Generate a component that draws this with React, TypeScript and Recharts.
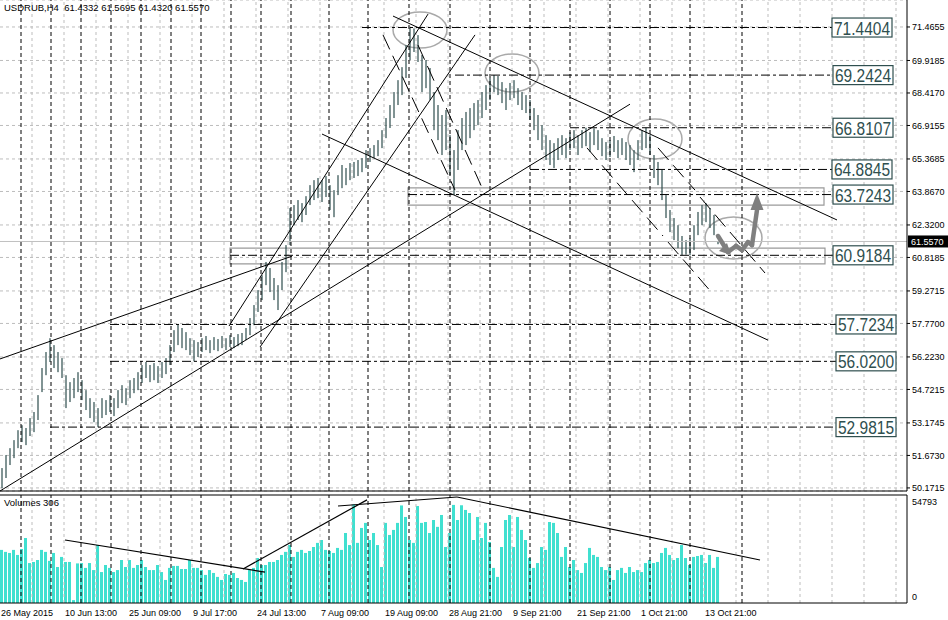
import React from "react";
import {
  ComposedChart,
  BarChart,
  Bar,
  XAxis,
  YAxis,
  CartesianGrid,
  ReferenceLine,
  ReferenceArea,
  ReferenceDot,
} from "recharts";

// USDRUB H4 bars (one entry per bar)
const highs = [
  51.09, 51.69, 52.01, 52.38, 52.84, 53.07, 52.94, 53.4, 53.68, 54.46,
  55.71, 56.45, 57.09, 56.77, 56.45, 56.17, 55.38, 55.06, 55.25, 55.52,
  55.15, 54.69, 54.32, 54.14, 53.86, 54.32, 54.23, 54.46, 54.32, 54.69,
  54.92, 54.78, 55.15, 55.25, 55.52, 55.85, 55.99, 55.85, 55.94, 55.8,
  55.99, 56.17, 56.77, 57.46, 57.72, 57.56, 57.37, 57.09, 57.0, 56.91,
  57.09, 57.19, 57.0, 57.14, 57.05, 57.19, 57.09, 57.23, 57.14, 57.28,
  57.33, 57.56, 58.02, 58.62, 59.31, 60.0, 60.61, 60.33, 59.87, 59.54,
  60.61, 61.39, 63.1, 63.24, 63.47, 63.33, 63.65, 64.16, 64.39, 64.49,
  64.39, 64.58, 64.16, 63.93, 64.62, 65.09, 64.95, 65.18, 65.23, 65.32,
  65.41, 65.78, 65.87, 66.01, 66.24, 66.7, 67.26, 67.86, 68.46, 69.01,
  69.61, 70.63, 71.44, 71.4, 71.09, 70.17, 69.94, 69.57, 68.46, 67.86,
  67.4, 67.63, 66.47, 65.78, 66.7, 67.26, 67.54, 67.72, 67.95, 68.09,
  68.46, 68.78, 69.11, 69.24, 69.2, 68.92, 68.64, 68.88, 69.01, 68.64,
  68.46, 68.32, 68.09, 67.72, 67.4, 66.93, 66.47, 66.24, 66.1, 66.33,
  66.47, 66.33, 66.61, 66.7, 66.47, 66.7, 66.81, 66.61, 66.78, 66.7,
  66.33, 66.15, 66.24, 66.43, 66.24, 66.33, 66.15, 66.01, 65.78, 66.24,
  66.7, 66.81, 66.47, 65.55, 65.23, 64.86, 63.7, 63.01, 62.64, 62.31,
  61.81, 61.62, 61.71, 62.31, 62.92, 63.24, 63.33, 63.1, 62.78, 61.57,
];
const lows = [
  50.16, 50.63, 51.23, 51.55, 52.01, 52.29, 52.15, 52.57, 52.75, 53.31,
  54.6, 55.38, 55.99, 55.71, 55.52, 55.25, 53.86, 54.14, 54.32, 54.6,
  54.23, 53.77, 53.4, 53.21, 52.98, 53.4, 53.54, 53.68, 53.49, 53.86,
  54.09, 54.0, 54.32, 54.55, 54.69, 55.02, 55.25, 55.06, 55.15, 55.02,
  55.25, 55.43, 55.85, 56.45, 56.77, 56.63, 56.54, 56.31, 56.02, 56.22,
  56.45, 56.54, 56.4, 56.54, 56.49, 56.63, 56.54, 56.68, 56.63, 56.72,
  56.77, 57.0, 57.23, 57.69, 58.3, 58.85, 59.54, 59.22, 58.85, 58.39,
  59.31, 60.14, 61.39, 62.31, 62.55, 62.45, 62.78, 63.24, 63.47, 63.56,
  63.38, 63.61, 63.01, 62.68, 63.7, 64.02, 64.16, 64.39, 64.49, 64.58,
  64.76, 64.95, 65.23, 65.41, 65.5, 65.87, 66.33, 66.8, 67.26, 67.86,
  68.32, 69.11, 69.94, 70.31, 69.85, 68.46, 68.64, 68.09, 66.7, 66.24,
  65.55, 65.78, 64.62, 63.7, 64.86, 65.78, 66.01, 66.33, 66.7, 66.93,
  67.26, 67.63, 68.09, 68.46, 68.32, 67.95, 67.63, 68.09, 68.18, 67.86,
  67.63, 67.49, 67.17, 66.7, 66.24, 65.78, 65.32, 65.09, 64.95, 65.32,
  65.55, 65.41, 65.78, 65.87, 65.55, 65.87, 65.96, 65.69, 66.01, 65.78,
  65.5, 65.32, 65.46, 65.69, 65.41, 65.55, 65.32, 65.09, 64.76, 65.32,
  65.78, 65.87, 65.55, 64.49, 64.16, 63.47, 62.64, 61.99, 61.62, 61.25,
  60.92, 60.95, 60.92, 61.16, 61.85, 62.31, 62.45, 62.18, 61.85, 61.43,
];
const volumes = [
  29500, 28400, 27800, 29500, 26700, 30000, 36100, 22200, 22800, 23900,
  29500, 28400, 23400, 27800, 20000, 25600, 22800, 22800, 1600, 22000,
  22200, 19500, 22200, 18300, 32200, 17200, 21100, 19500, 17200, 18300,
  23900, 20000, 23900, 19500, 21100, 23900, 20000, 18300, 18300, 21100,
  17200, 12800, 19500, 20600, 20600, 18900, 18900, 23900, 19500, 19500,
  18300, 15600, 18300, 16700, 14500, 12800, 16100, 15600, 16700, 13900,
  12800, 11700, 18300, 19500, 25000, 21100, 21100, 22800, 22800, 23900,
  26700, 28400, 32200, 25600, 28400, 29500, 27800, 28900, 31100, 33400,
  35000, 29500, 28900, 27800, 30600, 29500, 38900, 32200, 54793, 33400,
  41700, 44500, 35000, 38900, 32200, 20000, 44500, 37800, 40600, 44500,
  54200, 47800, 35000, 33400, 53900, 44500, 45000, 38900, 46100, 42300,
  48900, 31100, 38900, 54500, 46100, 54300, 51700, 50000, 35000, 47800,
  36100, 44500, 33900, 19500, 14500, 31100, 46100, 48900, 31100, 47800,
  40600, 35000, 25000, 19500, 22200, 31100, 29500, 45000, 44500, 38900,
  25600, 31100, 20000, 23900, 18300, 16700, 22200, 30600, 26700, 25600,
  20000, 18300, 20000, 12800, 18300, 19500, 16700, 20000, 17200, 18300,
  17200, 22200, 23900, 22200, 22800, 27800, 30600, 26700, 23900, 25000,
  32200, 25000, 21100, 25600, 26100, 26700, 22200, 26700, 19500, 25600,
];

const lastPrice = 61.557;
const priceDomain = [50.03, 72.712];
const volumeDomain = [0, 60000];
const timeDomain = [0, 226.75];

const priceTicks = [
  71.4655, 69.9185, 68.417, 66.9155, 65.3685, 63.867, 62.32, 60.8185,
  59.2715, 57.77, 56.223, 54.7215, 53.1745, 51.673, 50.1715,
];
const volumeTicks = [0, 54793];
const timeTicks = [0, 16, 32, 48, 64, 80, 96, 112, 128, 144, 160, 176];
const timeLabels = [
  "26 May 2015", "10 Jun 13:00", "25 Jun 09:00", "9 Jul 17:00",
  "24 Jul 13:00", "7 Aug 09:00", "19 Aug 09:00", "28 Aug 21:00",
  "9 Sep 21:00", "21 Sep 21:00", "1 Oct 21:00", "13 Oct 21:00",
];
const gridTimes = [
  8, 16, 24, 32, 40, 48, 56, 64, 72, 80, 88, 96, 104, 112, 120, 128, 136,
  144, 152, 160, 168, 176, 184, 192, 200, 208, 216, 224,
];
// weekly separators
const separatorTimes = [
  5.25, 12.75, 20.25, 27.75, 35.25, 42.75, 50.25, 57.75, 65.25, 72.75,
  82.25, 92, 102.25, 112.5, 122.5, 132.5, 142.5, 152.5, 162.5, 172.5, 185.5,
];

// horizontal levels with price boxes
const levelValues = [71.4404, 69.2424, 66.8107, 64.8845, 63.7243, 60.9184, 57.7234, 56.02, 52.9815];
const levelFrom = [90.5, 113.75, 142.5, 132.5, 102, 57.5, 27.5, 27.5, 12.5];
const levelBoxAt = [208, 208.25, 208.25, 208, 208.25, 208.25, 209, 209, 209];

// drawn objects: [t1, price1, t2, price2]
const trendLines = [
  [0, 50.03, 157.5, 67.9],
  [0, 56.13, 73, 60.88],
  [57.25, 57.65, 107, 72.06],
  [65, 56.68, 118.75, 71.1],
  [80.5, 66.52, 192, 57.0],
  [98.25, 71.97, 209.25, 62.55],
];
const dashedLines = [
  [95.75, 71.1, 113.75, 63.93],
  [104.5, 70.63, 120.75, 63.94],
  [146.75, 65.88, 165.75, 61.81],
  [164.5, 65.88, 173.75, 63.93],
  [175, 63.61, 191.25, 60.1],
  [167, 61.53, 178, 59.18],
];
const volumeLines = [
  [16.25, 35000, 66.25, 17200],
  [60.75, 18900, 91.75, 57300],
  [84.5, 53900, 114.25, 58900],
  [114.25, 58900, 190, 23900],
];
// rectangles and ellipses: [t1, t2, price1, price2]
const zones = [
  [102, 206, 63.24, 64.03],
  [57.5, 206.25, 60.52, 61.25],
];
const circles = [
  [98.25, 111.75, 70.49, 72.16],
  [121.25, 134.75, 68.46, 70.22],
  [157, 170.5, 65.37, 67.21],
  [176.25, 190.5, 60.75, 62.69],
];
const arrowPath = [
  [179.5, 61.81], [182, 61.07], [184, 61.35], [185.5, 61.16],
  [187, 61.53], [188, 61.39], [189.25, 63.01],
];

const rows = highs.map((h, i) => ({
  t: i + 0.5,
  range: [lows[i], h],
  vol: volumes[i],
}));

const BAR_COLOR = "#2f4f4f";
const GRID = "#bdbdbd";

const PriceBar = (p: any) => {
  if (p.x == null || p.height == null) return null;
  const top = Math.min(p.y, p.y + p.height);
  const h = Math.max(1, Math.abs(p.height));
  return <rect x={p.x + p.width / 2 - 0.6} y={top} width={1.2} height={h} fill={BAR_COLOR} />;
};

const EllipseShape = (p: any) => (
  <ellipse
    cx={p.x + p.width / 2}
    cy={p.y + p.height / 2}
    rx={Math.abs(p.width) / 2}
    ry={Math.abs(p.height) / 2}
    fill="none"
    stroke="#a9a9a9"
    strokeWidth={1.5}
  />
);

const levelBox = (v: number) => (p: any) => (
  <g>
    <rect x={p.cx} y={p.cy - 9.5} width={60} height={19} fill="#fff" stroke={BAR_COLOR} strokeWidth={1.2} />
    <text
      x={p.cx + 30}
      y={p.cy + 7}
      fontSize={17.5}
      fill={BAR_COLOR}
      textAnchor="middle"
      textLength={56}
      lengthAdjust="spacingAndGlyphs"
    >
      {v.toFixed(4)}
    </text>
  </g>
);

const PriceTag = (p: any) => (
  <g>
    <rect x={p.cx + 1} y={p.cy - 6} width={40} height={12} fill="#000" />
    <text x={p.cx + 4} y={p.cy + 3.5} fontSize={9} fill="#fff">
      {lastPrice.toFixed(4)}
    </text>
  </g>
);

const ArrowHead = (p: any) => (
  <polygon
    points={`${p.cx - 6.5},${p.cy} ${p.cx + 6.5},${p.cy} ${p.cx},${p.cy - 17}`}
    fill="#7f7f7f"
  />
);

const SmallHead = (p: any) => (
  <polygon
    points={`${p.cx + 3},${p.cy + 3} ${p.cx - 9},${p.cy - 1} ${p.cx - 1},${p.cy - 9}`}
    fill="#7f7f7f"
  />
);

const TimeTick = (p: any) => {
  const i = timeTicks.indexOf(p.payload.value);
  return (
    <text x={p.x + 1} y={p.y + 13} fontSize={9} fill="#000" textAnchor="start">
      {timeLabels[i]}
    </text>
  );
};

const VolTick = (p: any) => (
  <text x={p.x} y={p.payload.value === 0 ? p.y - 3 : p.y + 1} fontSize={9} fill="#000">
    {p.payload.value}
  </text>
);

export default function App() {
  return (
    <div
      style={{
        position: "absolute",
        left: 0,
        top: 0,
        width: 948,
        height: 620,
        background: "#fff",
        overflow: "hidden",
        fontFamily: '"Liberation Sans", Arial, sans-serif',
      }}
    >
      <div style={{ position: "absolute", left: 0, top: 0 }}>
        <ComposedChart width={948} height={492} data={rows} margin={{ top: 0, right: 0, bottom: 1, left: 0 }}>
          <CartesianGrid vertical={false} stroke={GRID} strokeDasharray="3 3" />
          <XAxis dataKey="t" type="number" domain={timeDomain} hide allowDataOverflow />
          <YAxis
            orientation="right"
            width={41}
            domain={priceDomain}
            ticks={priceTicks}
            interval={0}
            allowDataOverflow
            tickFormatter={(v: number) => v.toFixed(4)}
            tick={{ fontSize: 9, fill: "#000" }}
            tickSize={3}
            tickMargin={2}
            axisLine={{ stroke: "#000" }}
            tickLine={{ stroke: "#000" }}
          />
          {gridTimes.map((t) => (
            <ReferenceLine key={"g" + t} x={t} stroke={GRID} strokeDasharray="3 3" ifOverflow="visible" />
          ))}
          {separatorTimes.map((t) => (
            <ReferenceLine key={"s" + t} x={t} stroke="#000" strokeDasharray="4 3" ifOverflow="visible" />
          ))}
          <ReferenceLine y={lastPrice} stroke="#c0c0c0" ifOverflow="visible" />
          <ReferenceLine y={priceDomain[0]} stroke="#000" ifOverflow="visible" />
          {zones.map((z, i) => (
            <ReferenceArea
              key={"z" + i}
              x1={z[0]}
              x2={z[1]}
              y1={z[2]}
              y2={z[3]}
              fill="none"
              fillOpacity={0}
              stroke="#9a9a9a"
              strokeWidth={1.2}
              ifOverflow="visible"
            />
          ))}
          <Bar dataKey="range" shape={PriceBar} barSize={2} isAnimationActive={false} />
          {levelValues.map((v, i) => (
            <ReferenceLine
              key={"l" + i}
              segment={[{ x: levelFrom[i], y: v }, { x: levelBoxAt[i], y: v }]}
              stroke="#000"
              strokeDasharray="9 3 3 3"
              ifOverflow="visible"
            />
          ))}
          {trendLines.map((l, i) => (
            <ReferenceLine
              key={"t" + i}
              segment={[{ x: l[0], y: l[1] }, { x: l[2], y: l[3] }]}
              stroke="#000"
              strokeWidth={1}
              ifOverflow="visible"
            />
          ))}
          {dashedLines.map((l, i) => (
            <ReferenceLine
              key={"d" + i}
              segment={[{ x: l[0], y: l[1] }, { x: l[2], y: l[3] }]}
              stroke="#000"
              strokeDasharray="16 7"
              ifOverflow="visible"
            />
          ))}
          {circles.map((c, i) => (
            <ReferenceArea
              key={"c" + i}
              x1={c[0]}
              x2={c[1]}
              y1={c[2]}
              y2={c[3]}
              shape={EllipseShape}
              ifOverflow="visible"
            />
          ))}
          {arrowPath.slice(1).map((pt, i) => (
            <ReferenceLine
              key={"a" + i}
              segment={[
                { x: arrowPath[i][0], y: arrowPath[i][1] },
                { x: pt[0], y: pt[1] },
              ]}
              stroke="#7f7f7f"
              strokeWidth={4.5}
              strokeLinecap="round"
              ifOverflow="visible"
            />
          ))}
          <ReferenceDot x={arrowPath[1][0]} y={arrowPath[1][1]} shape={SmallHead} ifOverflow="visible" />
          <ReferenceDot
            x={arrowPath[arrowPath.length - 1][0]}
            y={arrowPath[arrowPath.length - 1][1]}
            shape={ArrowHead}
            ifOverflow="visible"
          />
          {levelValues.map((v, i) => (
            <ReferenceDot key={"b" + i} x={levelBoxAt[i]} y={v} shape={levelBox(v)} ifOverflow="visible" />
          ))}
          <ReferenceDot x={timeDomain[1]} y={lastPrice} shape={PriceTag} ifOverflow="visible" />
        </ComposedChart>
      </div>

      <div style={{ position: "absolute", left: 0, top: 492 }}>
        <BarChart width={948} height={128} data={rows} margin={{ top: 3, right: 0, bottom: 0, left: 0 }}>
          <XAxis
            dataKey="t"
            type="number"
            domain={timeDomain}
            ticks={timeTicks}
            interval={0}
            allowDataOverflow
            height={17}
            tickSize={0}
            tickMargin={0}
            tickLine={false}
            axisLine={{ stroke: "#000" }}
            tick={TimeTick}
          />
          <YAxis
            orientation="right"
            width={41}
            domain={volumeDomain}
            ticks={volumeTicks}
            interval={0}
            allowDataOverflow
            tickSize={0}
            tickMargin={5}
            tickLine={false}
            axisLine={{ stroke: "#000" }}
            tick={VolTick}
          />
          {gridTimes.map((t) => (
            <ReferenceLine key={"vg" + t} x={t} stroke={GRID} strokeDasharray="3 3" ifOverflow="visible" />
          ))}
          {separatorTimes.map((t) => (
            <ReferenceLine key={"vs" + t} x={t} stroke="#000" strokeDasharray="4 3" ifOverflow="visible" />
          ))}
          <ReferenceLine y={volumeDomain[1]} stroke="#000" ifOverflow="visible" />
          <Bar dataKey="vol" fill="#40e0d0" barSize={3} isAnimationActive={false} />
          {volumeLines.map((l, i) => (
            <ReferenceLine
              key={"vl" + i}
              segment={[{ x: l[0], y: l[1] }, { x: l[2], y: l[3] }]}
              stroke="#000"
              strokeWidth={1.2}
              ifOverflow="visible"
            />
          ))}
        </BarChart>
      </div>

      <div
        style={{
          position: "absolute",
          left: 4,
          top: 2,
          fontSize: 9.5,
          lineHeight: "12px",
          whiteSpace: "pre",
          color: "#000",
        }}
      >
        {"USDRUB,H4  61.4332 61.5695 61.4320 61.5570"}
      </div>
      <div
        style={{
          position: "absolute",
          left: 4,
          top: 497,
          fontSize: 9.5,
          lineHeight: "12px",
          whiteSpace: "pre",
          color: "#000",
        }}
      >
        {"Volumes 306"}
      </div>
    </div>
  );
}
